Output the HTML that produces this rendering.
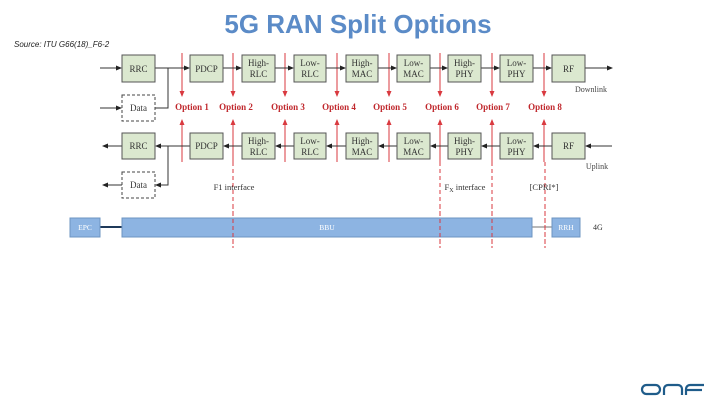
<!DOCTYPE html>
<html><head><meta charset="utf-8"><style>
body{margin:0;background:#fff;}
svg{display:block;}
.b{fill:#dbe8cf;stroke:#555;stroke-width:1;}
.t{font-family:"Liberation Serif",serif;font-size:9px;fill:#333;text-anchor:middle;}
.o{font-family:"Liberation Serif",serif;font-size:9px;font-weight:bold;fill:#c0282d;text-anchor:middle;}
.r{stroke:#d9393f;stroke-width:1;}
.rd{stroke:#d9393f;stroke-width:1;stroke-dasharray:4,3;}
.l{stroke:#333;stroke-width:1;fill:none;}
</style></head><body>
<svg width="720" height="405" viewBox="0 0 720 405" xmlns="http://www.w3.org/2000/svg">
<defs>
<marker id="a" markerWidth="6" markerHeight="6" refX="5" refY="3" orient="auto"><path d="M0,0.5 L6,3 L0,5.5z" fill="#222"/></marker>
<marker id="ra" markerWidth="6" markerHeight="6" refX="5" refY="3" orient="auto"><path d="M0,0.5 L6,3 L0,5.5z" fill="#d9393f"/></marker>
</defs>
<text x="14" y="47" font-family="Liberation Sans,sans-serif" font-size="8" font-style="italic" fill="#222">Source: ITU G66(18)_F6-2</text>
<text x="358" y="33" font-family="Liberation Sans,sans-serif" font-size="26" font-weight="bold" fill="#5b8bc7" text-anchor="middle">5G RAN Split Options</text>

<!-- red option lines -->
<g>
<line class="r" x1="182" y1="53" x2="182" y2="96" marker-end="url(#ra)"/><line class="r" x1="182" y1="162" x2="182" y2="120" marker-end="url(#ra)"/>
<line class="r" x1="233" y1="53" x2="233" y2="96" marker-end="url(#ra)"/><line class="r" x1="233" y1="162" x2="233" y2="120" marker-end="url(#ra)"/><line class="rd" x1="233" y1="162" x2="233" y2="248"/>
<line class="r" x1="285" y1="53" x2="285" y2="96" marker-end="url(#ra)"/><line class="r" x1="285" y1="162" x2="285" y2="120" marker-end="url(#ra)"/>
<line class="r" x1="337" y1="53" x2="337" y2="96" marker-end="url(#ra)"/><line class="r" x1="337" y1="162" x2="337" y2="120" marker-end="url(#ra)"/>
<line class="r" x1="389" y1="53" x2="389" y2="96" marker-end="url(#ra)"/><line class="r" x1="389" y1="162" x2="389" y2="120" marker-end="url(#ra)"/>
<line class="r" x1="440" y1="53" x2="440" y2="96" marker-end="url(#ra)"/><line class="r" x1="440" y1="162" x2="440" y2="120" marker-end="url(#ra)"/><line class="rd" x1="440" y1="162" x2="440" y2="248"/>
<line class="r" x1="492" y1="53" x2="492" y2="96" marker-end="url(#ra)"/><line class="r" x1="492" y1="162" x2="492" y2="120" marker-end="url(#ra)"/><line class="rd" x1="492" y1="162" x2="492" y2="248"/>
<line class="r" x1="544" y1="53" x2="544" y2="96" marker-end="url(#ra)"/><line class="r" x1="544" y1="162" x2="544" y2="120" marker-end="url(#ra)"/><line class="rd" x1="545" y1="162" x2="545" y2="248"/>
</g>
<text class="o" x="192" y="110">Option 1</text>
<text class="o" x="236" y="110">Option 2</text>
<text class="o" x="288" y="110">Option 3</text>
<text class="o" x="339" y="110">Option 4</text>
<text class="o" x="390" y="110">Option 5</text>
<text class="o" x="442" y="110">Option 6</text>
<text class="o" x="493" y="110">Option 7</text>
<text class="o" x="545" y="110">Option 8</text>

<!-- top connectors -->
<line class="l" x1="100" y1="68" x2="121" y2="68" marker-end="url(#a)"/>
<line class="l" x1="155" y1="68" x2="189" y2="68" marker-end="url(#a)"/>
<line class="l" x1="223" y1="68" x2="241" y2="68" marker-end="url(#a)"/>
<line class="l" x1="275" y1="68" x2="293" y2="68" marker-end="url(#a)"/>
<line class="l" x1="326" y1="68" x2="345" y2="68" marker-end="url(#a)"/>
<line class="l" x1="378" y1="68" x2="396" y2="68" marker-end="url(#a)"/>
<line class="l" x1="430" y1="68" x2="447" y2="68" marker-end="url(#a)"/>
<line class="l" x1="481" y1="68" x2="499" y2="68" marker-end="url(#a)"/>
<line class="l" x1="533" y1="68" x2="551" y2="68" marker-end="url(#a)"/>
<line class="l" x1="585" y1="68" x2="612" y2="68" marker-end="url(#a)"/>
<line class="l" x1="100" y1="108" x2="121" y2="108" marker-end="url(#a)"/>
<polyline class="l" points="155,108 168,108 168,68"/>
<!-- bottom connectors -->
<line class="l" x1="122" y1="146" x2="103" y2="146" marker-end="url(#a)"/>
<line class="l" x1="190" y1="146" x2="156" y2="146" marker-end="url(#a)"/>
<line class="l" x1="242" y1="146" x2="224" y2="146" marker-end="url(#a)"/>
<line class="l" x1="294" y1="146" x2="276" y2="146" marker-end="url(#a)"/>
<line class="l" x1="346" y1="146" x2="327" y2="146" marker-end="url(#a)"/>
<line class="l" x1="397" y1="146" x2="379" y2="146" marker-end="url(#a)"/>
<line class="l" x1="448" y1="146" x2="431" y2="146" marker-end="url(#a)"/>
<line class="l" x1="500" y1="146" x2="482" y2="146" marker-end="url(#a)"/>
<line class="l" x1="552" y1="146" x2="534" y2="146" marker-end="url(#a)"/>
<line class="l" x1="612" y1="146" x2="586" y2="146" marker-end="url(#a)"/>
<line class="l" x1="122" y1="185" x2="103" y2="185" marker-end="url(#a)"/>
<polyline class="l" points="168,146 168,185 156,185" marker-end="url(#a)"/>

<!-- boxes top -->
<g>
<rect class="b" x="122" y="55" width="33" height="27"/><text class="t" x="138.5" y="72">RRC</text>
<rect class="b" x="190" y="55" width="33" height="27"/><text class="t" x="206.5" y="72">PDCP</text>
<rect class="b" x="242" y="55" width="33" height="27"/><text class="t" x="258.5" y="66">High-</text><text class="t" x="258.5" y="77">RLC</text>
<rect class="b" x="294" y="55" width="32" height="27"/><text class="t" x="310" y="66">Low-</text><text class="t" x="310" y="77">RLC</text>
<rect class="b" x="346" y="55" width="32" height="27"/><text class="t" x="362" y="66">High-</text><text class="t" x="362" y="77">MAC</text>
<rect class="b" x="397" y="55" width="33" height="27"/><text class="t" x="413.5" y="66">Low-</text><text class="t" x="413.5" y="77">MAC</text>
<rect class="b" x="448" y="55" width="33" height="27"/><text class="t" x="464.5" y="66">High-</text><text class="t" x="464.5" y="77">PHY</text>
<rect class="b" x="500" y="55" width="33" height="27"/><text class="t" x="516.5" y="66">Low-</text><text class="t" x="516.5" y="77">PHY</text>
<rect class="b" x="552" y="55" width="33" height="27"/><text class="t" x="568.5" y="72">RF</text>
</g>
<!-- boxes bottom -->
<g>
<rect class="b" x="122" y="133" width="33" height="26"/><text class="t" x="138.5" y="149">RRC</text>
<rect class="b" x="190" y="133" width="33" height="26"/><text class="t" x="206.5" y="149">PDCP</text>
<rect class="b" x="242" y="133" width="33" height="26"/><text class="t" x="258.5" y="144">High-</text><text class="t" x="258.5" y="155">RLC</text>
<rect class="b" x="294" y="133" width="32" height="26"/><text class="t" x="310" y="144">Low-</text><text class="t" x="310" y="155">RLC</text>
<rect class="b" x="346" y="133" width="32" height="26"/><text class="t" x="362" y="144">High-</text><text class="t" x="362" y="155">MAC</text>
<rect class="b" x="397" y="133" width="33" height="26"/><text class="t" x="413.5" y="144">Low-</text><text class="t" x="413.5" y="155">MAC</text>
<rect class="b" x="448" y="133" width="33" height="26"/><text class="t" x="464.5" y="144">High-</text><text class="t" x="464.5" y="155">PHY</text>
<rect class="b" x="500" y="133" width="33" height="26"/><text class="t" x="516.5" y="144">Low-</text><text class="t" x="516.5" y="155">PHY</text>
<rect class="b" x="552" y="133" width="33" height="26"/><text class="t" x="568.5" y="149">RF</text>
</g>
<rect x="122" y="95" width="33" height="26" fill="#fff" stroke="#444" stroke-dasharray="3,2"/><text class="t" x="138.5" y="111" font-size="8">Data</text>
<rect x="122" y="172" width="33" height="26" fill="#fff" stroke="#444" stroke-dasharray="3,2"/><text class="t" x="138.5" y="188" font-size="8">Data</text>

<text x="591" y="92" font-family="Liberation Serif,serif" font-size="8" fill="#444" text-anchor="middle">Downlink</text>
<text x="597" y="169" font-family="Liberation Serif,serif" font-size="8" fill="#444" text-anchor="middle">Uplink</text>
<text x="234" y="190" font-family="Liberation Serif,serif" font-size="8.5" fill="#333" text-anchor="middle">F1 interface</text>
<text x="465" y="190" font-family="Liberation Serif,serif" font-size="8.5" fill="#333" text-anchor="middle">F<tspan font-size="6" dy="2">X</tspan><tspan dy="-2"> interface</tspan></text>
<text x="544" y="190" font-family="Liberation Serif,serif" font-size="8.5" fill="#333" text-anchor="middle">[CPRI*]</text>

<!-- bottom bar -->
<line x1="100" y1="227" x2="122" y2="227" stroke="#1f3a5a" stroke-width="2"/>
<line x1="532" y1="227" x2="552" y2="227" stroke="#444" stroke-width="0.8"/>
<rect x="70" y="218" width="30" height="19" fill="#8db4e2" stroke="#6d94c2"/>
<rect x="122" y="218" width="410" height="19" fill="#8db4e2" stroke="#6d94c2"/>
<rect x="552" y="218" width="28" height="19" fill="#8db4e2" stroke="#6d94c2"/>
<text x="85" y="230" font-family="Liberation Serif,serif" font-size="7.5" fill="#fff" text-anchor="middle">EPC</text>
<text x="327" y="230" font-family="Liberation Serif,serif" font-size="7.5" fill="#fff" text-anchor="middle">BBU</text>
<text x="566" y="230" font-family="Liberation Serif,serif" font-size="7.5" fill="#fff" text-anchor="middle">RRH</text>
<text x="593" y="230" font-family="Liberation Serif,serif" font-size="8" fill="#333">4G</text>
<line class="rd" x1="233" y1="205" x2="233" y2="248" stroke-width="0.7"/>
<line class="rd" x1="440" y1="205" x2="440" y2="248" stroke-width="0.7"/>
<line class="rd" x1="492" y1="205" x2="492" y2="248" stroke-width="0.7"/>
<line class="rd" x1="545" y1="205" x2="545" y2="248" stroke-width="0.7"/>

<!-- ONF logo -->
<g fill="none" stroke="#1f5c8a" stroke-width="2.2">
<rect x="642" y="385" width="18" height="9" rx="4.5"/>
<path d="M664,395 V389 a4,4 0 0 1 4,-4 h10 a4,4 0 0 1 4,4 V395"/>
<path d="M686,395 V389 a4,4 0 0 1 4,-4 h14"/>
<path d="M686,390 h16"/>
</g>
</svg>
</body></html>
